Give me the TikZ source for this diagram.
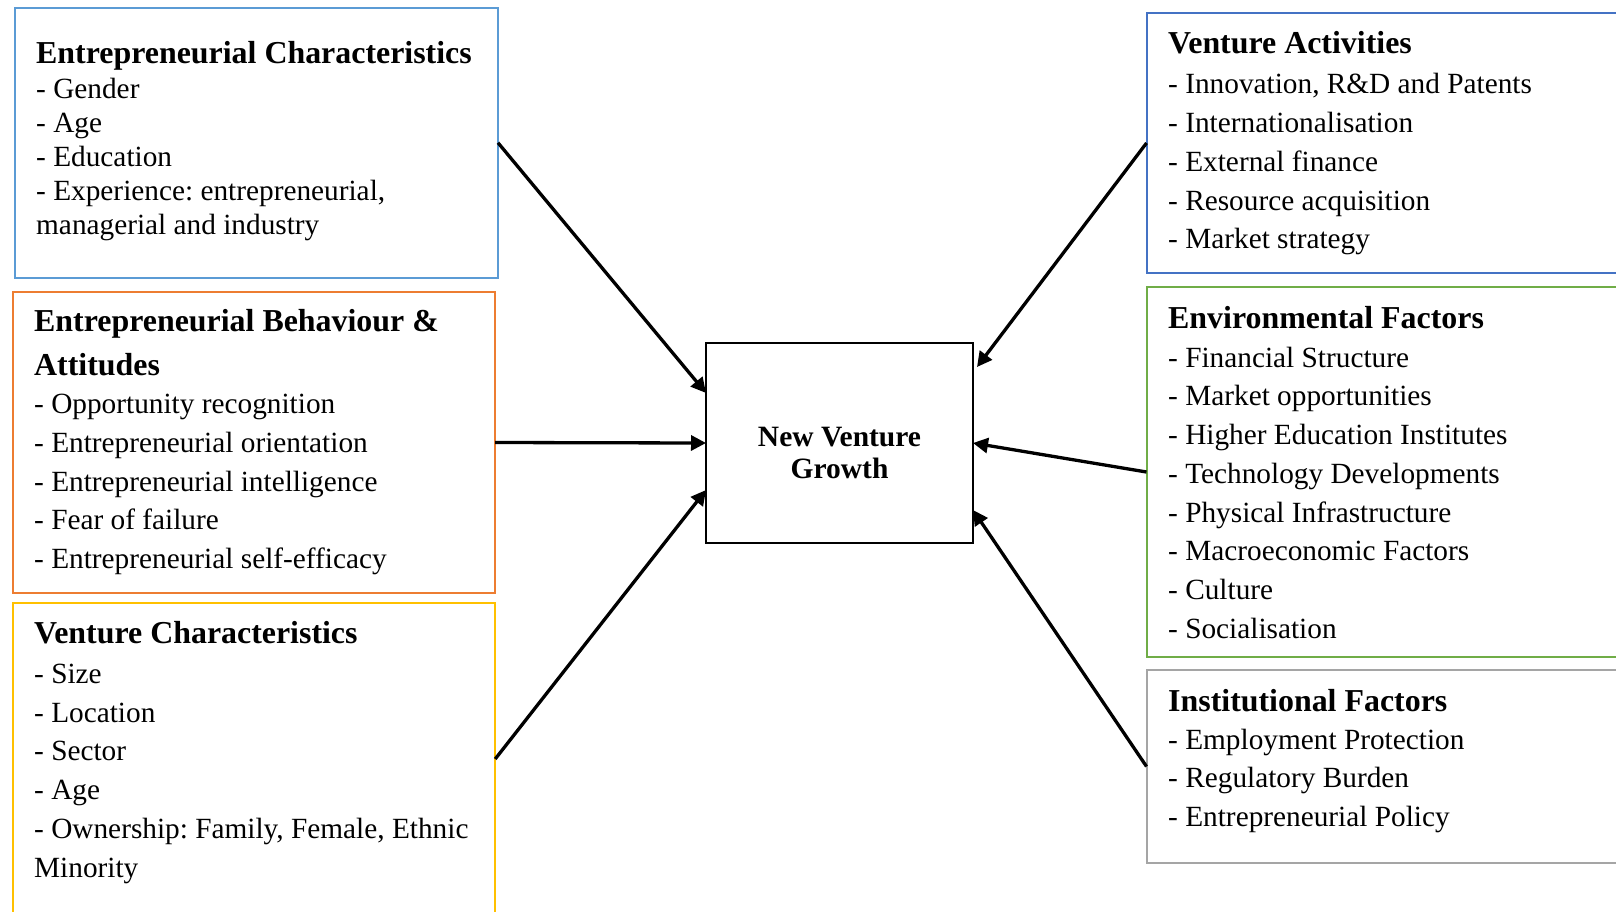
\documentclass[tikz,border=0pt]{standalone}
\usepackage{fontspec}
\setmainfont{Liberation Serif}
\usetikzlibrary{arrows.meta,calc}
\definecolor{ecblue}{HTML}{5B9BD5}
\definecolor{eborange}{HTML}{ED7D31}
\definecolor{vcgold}{HTML}{FFC000}
\definecolor{vablue}{HTML}{4472C4}
\definecolor{envgreen}{HTML}{70AD47}
\definecolor{instgray}{HTML}{A5A5A5}
% word spaces at the font's own width (ragged alignment widens them otherwise)
\newcommand\tightspaces{\frenchspacing\spaceskip=0.25em\relax\xspaceskip=0.25em\relax}
\newcommand\boxtitle{\fontsize{31.9}{31.9}\selectfont\bfseries\tightspaces}
\newcommand\firstline{\tightspaces\rule{0pt}{24pt}}
\begin{document}
\begin{tikzpicture}[x=1pt,y=-1pt,
  factor/.style={draw=#1, line width=2pt, anchor=north west, inner sep=0pt, outer sep=0pt},
  txt/.style={anchor=north west, inner sep=0pt, text width=560pt, align=left,
    font=\fontsize{29.3}{#1}\selectfont},
  hub/.style={draw=black, line width=2.6pt, anchor=north west, inner sep=0pt, outer sep=0pt,
    minimum width=267pt, minimum height=200pt},
  link/.style={line width=3.3pt, -{Triangle[length=15pt,width=15pt]}}]
\useasboundingbox (0,0) rectangle (1616,911);
\fill[white] (0,0) rectangle (1616,911);
\clip (0,0) rectangle (1616,911);

% central outcome
\node[hub] (c) at (706,343) {};
\node[anchor=north, inner sep=0pt, text width=260pt, align=center,
  font=\fontsize{29.5}{32}\selectfont\bfseries] (ctext) at (839.5,422)
  {\firstline New Venture\\Growth};

% left-hand factor boxes
\node[factor=ecblue, minimum width=483pt, minimum height=270.5pt] (b1) at (15,7.5) {};
\node[txt=34] (t1) at (36,39) {\firstline{\boxtitle Entrepreneurial Characteristics}\\[1pt]
- Gender\\- Age\\- Education\\- Experience: entrepreneurial,\\managerial and industry};

\node[factor=eborange, minimum width=482.5pt, minimum height=301pt] (b2) at (12.7,292) {};
\node[txt=38.75] (t2) at (34,307) {\firstline{\boxtitle Entrepreneurial Behaviour \&}\\[5.25pt]
{\boxtitle Attitudes}\\[-0.25pt]
- Opportunity recognition\\- Entrepreneurial orientation\\- Entrepreneurial intelligence\\
- Fear of failure\\- Entrepreneurial self-efficacy};

\node[factor=vcgold, minimum width=482.5pt, minimum height=312pt] (b3) at (12.7,603) {};
\node[txt=38.8] (t3) at (34,619) {\firstline{\boxtitle Venture Characteristics}\\[1.2pt]
- Size\\- Location\\- Sector\\- Age\\- Ownership: Family, Female, Ethnic\\Minority};

% right-hand factor boxes
\node[factor=vablue, minimum width=500pt, minimum height=260pt] (b4) at (1146.5,13) {};
\node[txt=38.8] (t4) at (1168,29.5) {\firstline{\boxtitle Venture Activities}\\[1.2pt]
- Innovation, R\&D and Patents\\- Internationalisation\\- External finance\\
- Resource acquisition\\- Market strategy};

\node[factor=envgreen, minimum width=500pt, minimum height=370pt] (b5) at (1146.5,287) {};
\node[txt=38.75] (t5) at (1168,304) {\firstline{\boxtitle Environmental Factors}\\[0.25pt]
- Financial Structure\\- Market opportunities\\- Higher Education Institutes\\
- Technology Developments\\- Physical Infrastructure\\- Macroeconomic Factors\\
- Culture\\- Socialisation};

\node[factor=instgray, minimum width=500pt, minimum height=193pt] (b6) at (1146.5,670) {};
\node[txt=38.7] (t6) at (1168,687) {\firstline{\boxtitle Institutional Factors}\\[-0.7pt]
- Employment Protection\\- Regulatory Burden\\- Entrepreneurial Policy};

% influences on growth
\draw[link] (b1.east) -- ($(c.north west)!0.25!(c.south west)$);
\draw[link] (b2.east) -- (c.west);
\draw[link] (b3.east) -- ($(c.north west)!0.735!(c.south west)$);
\draw[link] (b4.west) -- ($(c.north east)!0.12!(c.south east)+(4,0)$);
\draw[link] (b5.west) -- (c.east);
\draw[link] (b6.west) -- ($(c.north east)!0.835!(c.south east)$);
\end{tikzpicture}
\end{document}
